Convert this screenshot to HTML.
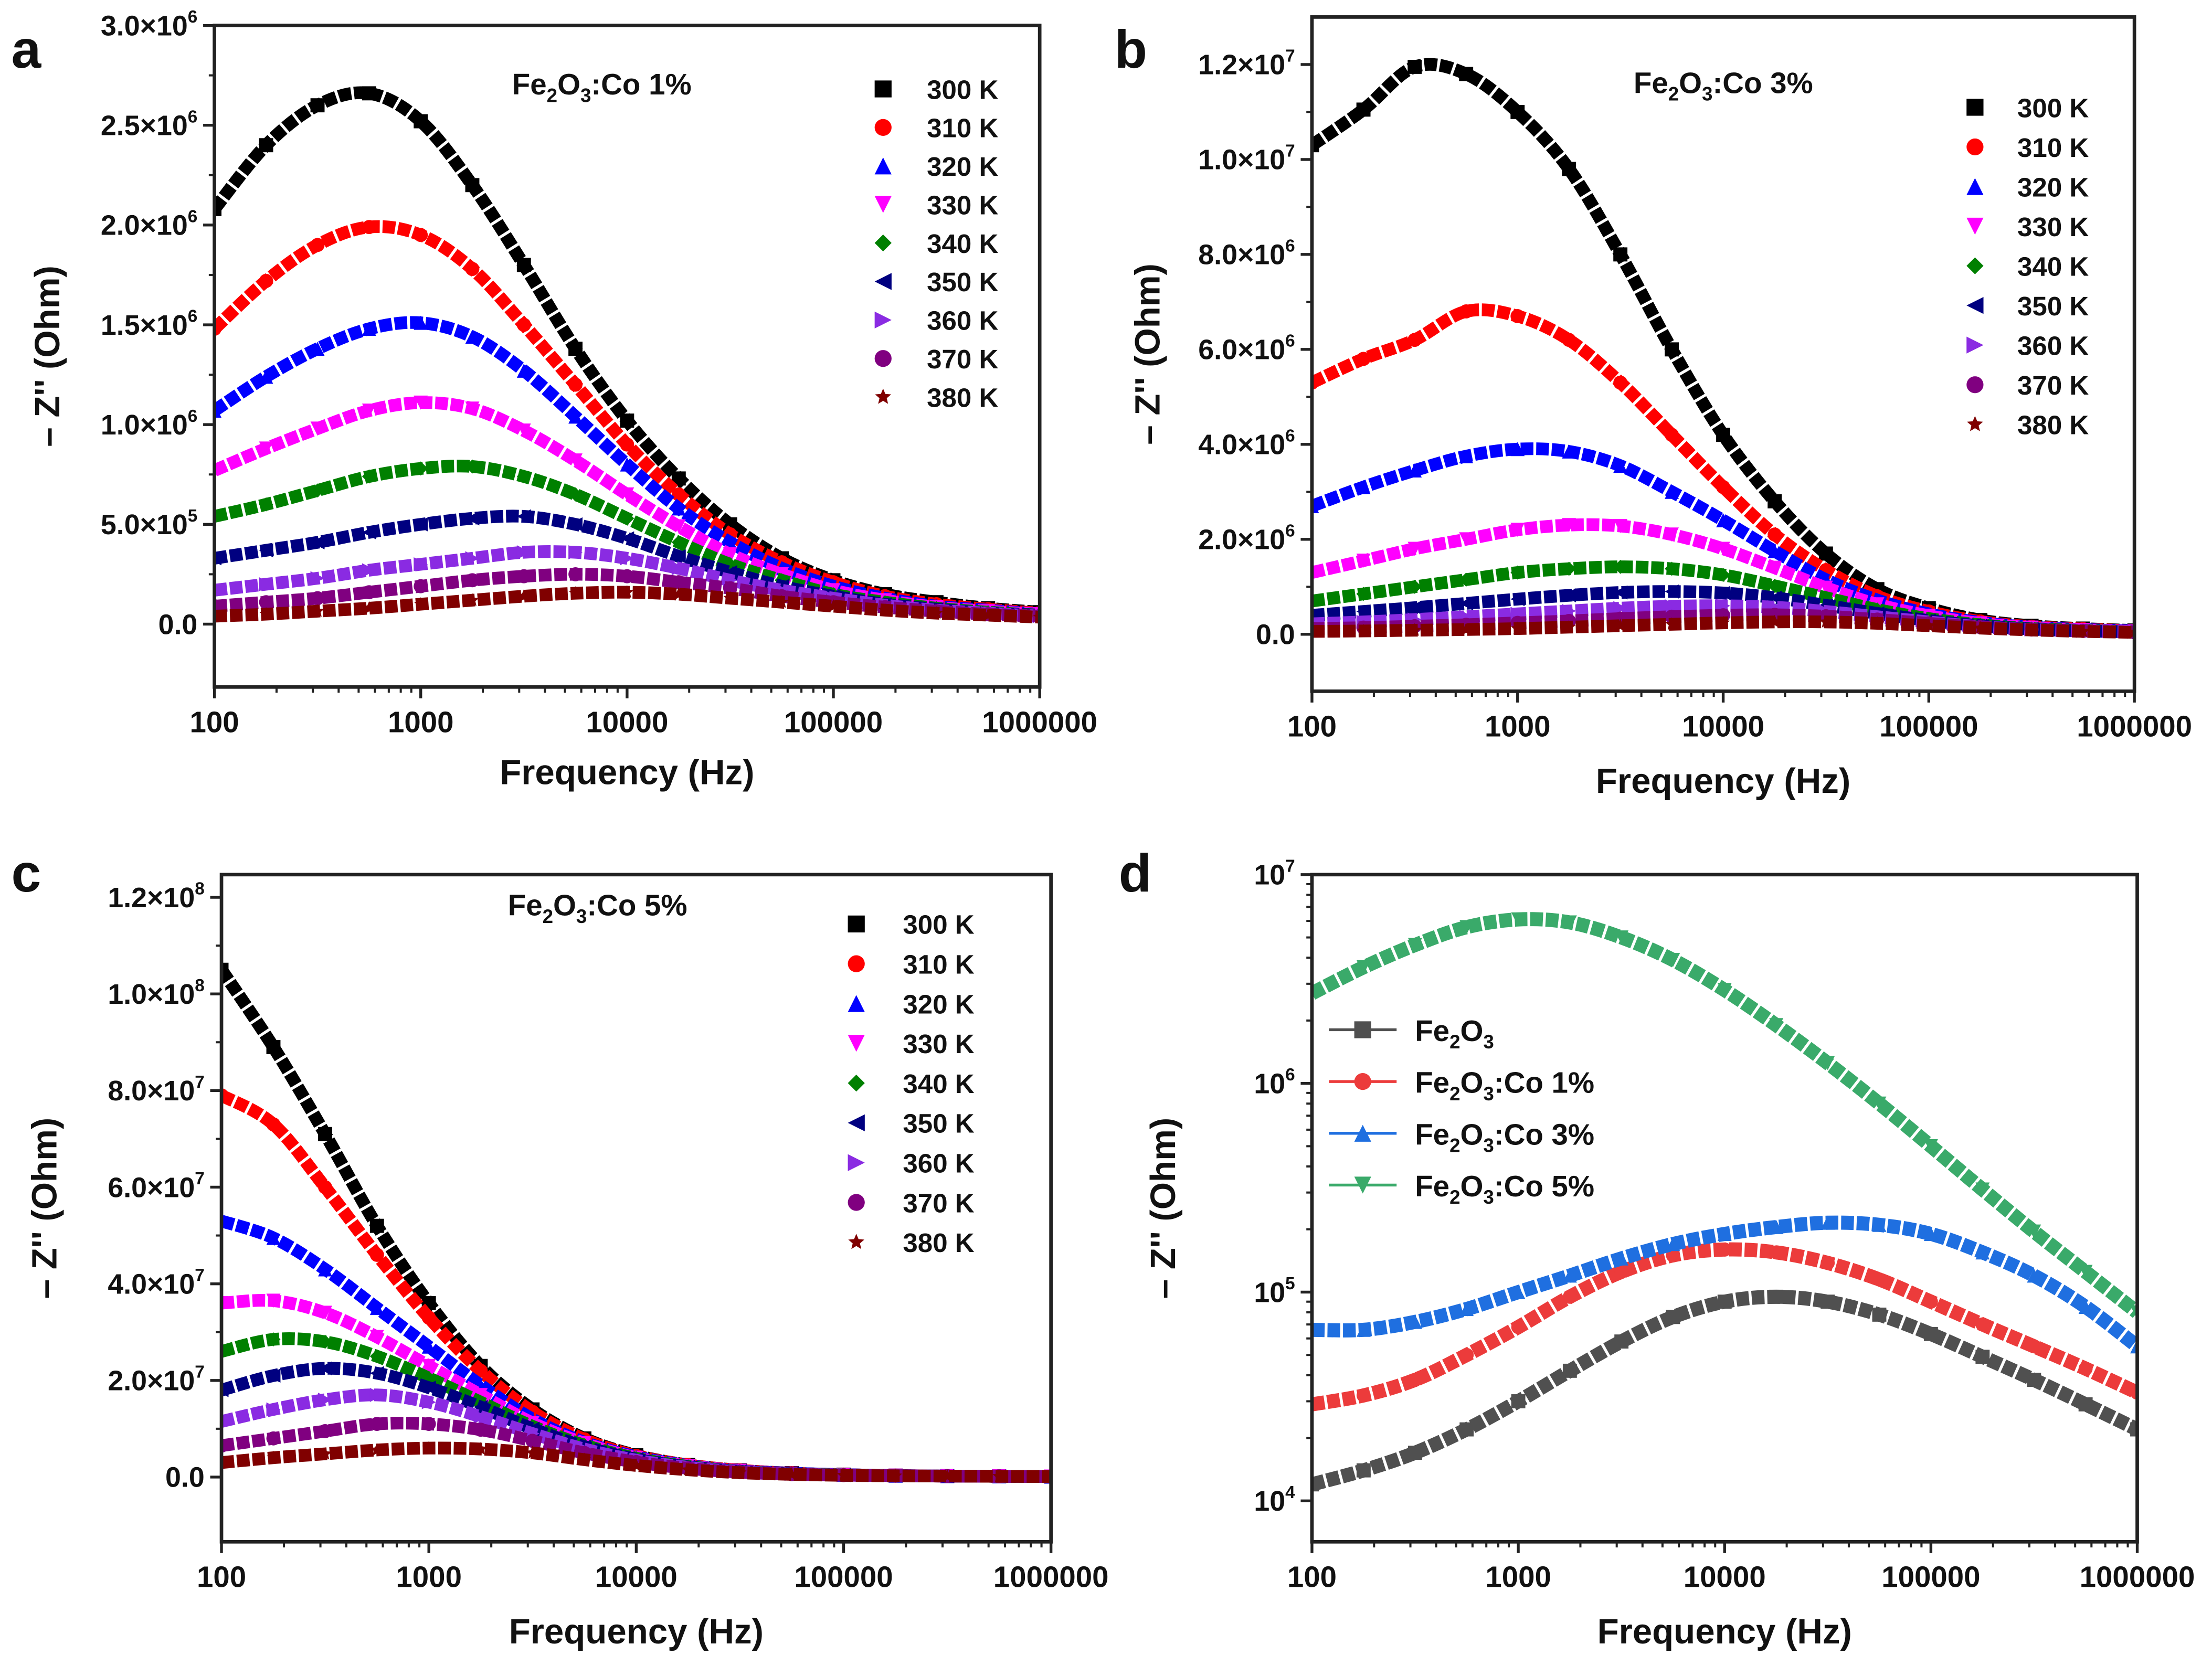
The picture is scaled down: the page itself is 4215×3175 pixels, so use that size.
<!DOCTYPE html>
<html><head><meta charset="utf-8"><style>
html,body{margin:0;padding:0;background:#fff}
svg{display:block}
text{font-family:"Liberation Sans",Arial,sans-serif;font-weight:bold;fill:#111}
</style></head><body>
<svg id="fig" width="4215" height="3175" viewBox="0 0 1568 1181" xmlns="http://www.w3.org/2000/svg"></svg>
<script>
// ===== data =====
const freqs = [100,178,316,562,1000,1778,3162,5623,1e4,1.78e4,3.16e4,5.62e4,1e5,1.78e5,3.16e5,5.62e5,1e6];
const tempLabels = ["300 K","310 K","320 K","330 K","340 K","350 K","360 K","370 K","380 K"];
// panel a (x1e6 Ohm)
const a300=[2.08,2.4,2.6,2.66,2.52,2.2,1.8,1.38,1.02,0.73,0.5,0.33,0.22,0.15,0.11,0.08,0.06];
const a310=[1.48,1.72,1.9,1.99,1.95,1.78,1.5,1.2,0.9,0.65,0.45,0.31,0.21,0.14,0.1,0.075,0.055];
const a320=[1.07,1.24,1.38,1.48,1.51,1.44,1.27,1.04,0.8,0.58,0.41,0.28,0.19,0.13,0.09,0.07,0.05];
const a330=[0.77,0.88,0.98,1.07,1.11,1.08,0.97,0.82,0.65,0.49,0.35,0.25,0.17,0.12,0.085,0.065,0.05];
const a340=[0.54,0.6,0.67,0.74,0.78,0.79,0.74,0.65,0.53,0.41,0.3,0.22,0.15,0.11,0.08,0.06,0.045];
const a350=[0.33,0.37,0.41,0.46,0.5,0.53,0.54,0.5,0.43,0.34,0.26,0.19,0.14,0.1,0.075,0.055,0.045];
const a360=[0.17,0.2,0.23,0.27,0.3,0.33,0.36,0.36,0.33,0.28,0.22,0.17,0.13,0.095,0.07,0.055,0.04];
const a370=[0.09,0.11,0.13,0.16,0.19,0.22,0.24,0.25,0.24,0.21,0.18,0.14,0.11,0.085,0.065,0.05,0.04];
const a380=[0.04,0.05,0.065,0.08,0.1,0.12,0.14,0.155,0.16,0.15,0.13,0.11,0.09,0.07,0.055,0.045,0.035];
// panel b (x1e6 Ohm)
const b300=[10.3,11.05,11.95,11.8,11.0,9.8,8.0,6.0,4.2,2.8,1.7,0.95,0.55,0.3,0.18,0.12,0.08];
const b310=[5.3,5.8,6.2,6.8,6.7,6.2,5.3,4.2,3.1,2.1,1.35,0.8,0.48,0.27,0.16,0.11,0.07];
const b320=[2.7,3.1,3.45,3.75,3.9,3.85,3.55,3.0,2.4,1.75,1.15,0.72,0.43,0.25,0.15,0.1,0.07];
const b330=[1.3,1.55,1.8,2.0,2.2,2.3,2.28,2.1,1.8,1.4,0.98,0.63,0.39,0.23,0.14,0.09,0.06];
const b340=[0.7,0.85,1.0,1.15,1.3,1.38,1.42,1.38,1.25,1.02,0.77,0.52,0.33,0.2,0.12,0.08,0.05];
const b350=[0.4,0.48,0.56,0.65,0.74,0.82,0.88,0.9,0.87,0.77,0.61,0.44,0.29,0.18,0.11,0.07,0.05];
const b360=[0.22,0.26,0.31,0.37,0.43,0.49,0.55,0.59,0.6,0.57,0.48,0.37,0.26,0.16,0.1,0.07,0.05];
const b370=[0.12,0.14,0.17,0.2,0.24,0.28,0.33,0.37,0.4,0.41,0.38,0.31,0.23,0.15,0.1,0.07,0.04];
const b380=[0.06,0.07,0.085,0.1,0.12,0.15,0.18,0.21,0.24,0.26,0.26,0.23,0.18,0.13,0.09,0.06,0.04];
// panel c (x1e7 Ohm)
const c300=[10.5,8.9,7.1,5.2,3.6,2.3,1.4,0.8,0.45,0.25,0.14,0.08,0.05,0.03,0.02,0.015,0.01];
const c310=[7.9,7.3,6.0,4.6,3.3,2.2,1.35,0.78,0.44,0.25,0.14,0.08,0.05,0.03,0.02,0.015,0.01];
const c320=[5.3,4.95,4.3,3.5,2.7,1.9,1.2,0.72,0.42,0.24,0.13,0.08,0.05,0.03,0.02,0.015,0.01];
const c330=[3.6,3.65,3.4,2.9,2.3,1.7,1.12,0.7,0.4,0.23,0.13,0.07,0.045,0.03,0.02,0.015,0.01];
const c340=[2.6,2.85,2.8,2.5,2.05,1.55,1.05,0.66,0.39,0.22,0.12,0.07,0.045,0.03,0.02,0.015,0.01];
const c350=[1.8,2.1,2.25,2.15,1.85,1.45,1.0,0.63,0.37,0.21,0.12,0.07,0.04,0.03,0.02,0.015,0.01];
const c360=[1.15,1.4,1.6,1.7,1.55,1.25,0.9,0.58,0.35,0.2,0.11,0.065,0.04,0.03,0.02,0.015,0.01];
const c370=[0.65,0.8,0.95,1.1,1.1,0.98,0.75,0.5,0.31,0.18,0.1,0.06,0.04,0.03,0.02,0.015,0.01];
const c380=[0.3,0.4,0.48,0.56,0.6,0.58,0.5,0.36,0.24,0.15,0.09,0.055,0.035,0.025,0.02,0.015,0.01];
// panel d (Ohm)
const dFe=[1.2e4,1.4e4,1.7e4,2.2e4,3e4,4.2e4,5.8e4,7.6e4,9e4,9.5e4,9e4,7.8e4,6.3e4,4.9e4,3.8e4,2.9e4,2.2e4];
const dCo1=[2.9e4,3.2e4,3.8e4,5e4,6.8e4,9.5e4,1.25e5,1.5e5,1.6e5,1.55e5,1.38e5,1.15e5,9e4,7e4,5.5e4,4.3e4,3.3e4];
const dCo3=[6.6e4,6.6e4,7.2e4,8.3e4,1e5,1.2e5,1.45e5,1.7e5,1.9e5,2.05e5,2.15e5,2.1e5,1.9e5,1.55e5,1.2e5,8.5e4,5.5e4];
const dCo5=[2.7e6,3.6e6,4.6e6,5.6e6,6.1e6,5.9e6,5.0e6,3.9e6,2.8e6,1.9e6,1.25e6,8e5,5e5,3.1e5,1.95e5,1.25e5,8e4];
const dLabels=["Fe2O3","Fe2O3:Co 1%","Fe2O3:Co 3%","Fe2O3:Co 5%"];
const xTickLabels=["100","1000","10000","100000","1000000"];
const aTicks=[0,0.5,1,1.5,2,2.5,3], aTickLabels=[["0.0",""],["5.0×10","5"],["1.0×10","6"],["1.5×10","6"],["2.0×10","6"],["2.5×10","6"],["3.0×10","6"]];
const bTicks=[0,2,4,6,8,10,12], bTickLabels=[["0.0",""],["2.0×10","6"],["4.0×10","6"],["6.0×10","6"],["8.0×10","6"],["1.0×10","7"],["1.2×10","7"]];
const cTicks=[0,2,4,6,8,10,12], cTickLabels=[["0.0",""],["2.0×10","7"],["4.0×10","7"],["6.0×10","7"],["8.0×10","7"],["1.0×10","8"],["1.2×10","8"]];
const dTicks=[1e4,1e5,1e6,1e7], dTickLabels=[["10","4"],["10","5"],["10","6"],["10","7"]];

// ===== drawing =====
const NS="http://www.w3.org/2000/svg", svg=document.getElementById('fig');
function el(tag,attrs,parent){const e=document.createElementNS(NS,tag);for(const k in attrs)e.setAttribute(k,attrs[k]);(parent||svg).appendChild(e);return e;}
const tColors=["#000000","#ff0000","#0000ff","#ff00ff","#008000","#000080","#8a2be2","#800080","#800000"];
const tShapes=["square","circle","up","down","diamond","left","right","circle","star"];
function marker(g,shape,x,y,s,color){
  let e;
  if(shape==="square") e=el('rect',{x:x-s/2,y:y-s/2,width:s,height:s,fill:color},g);
  else if(shape==="circle") e=el('circle',{cx:x,cy:y,r:s/2,fill:color},g);
  else {
    let p;const h=s/2;
    if(shape==="up")p=[[x,y-h],[x+h,y+h],[x-h,y+h]];
    else if(shape==="down")p=[[x,y+h],[x+h,y-h],[x-h,y-h]];
    else if(shape==="diamond")p=[[x,y-h],[x+h,y],[x,y+h],[x-h,y]];
    else if(shape==="left")p=[[x-h,y],[x+h,y-h],[x+h,y+h]];
    else if(shape==="right")p=[[x+h,y],[x-h,y-h],[x-h,y+h]];
    else {p=[];for(let i=0;i<10;i++){const r=i%2?h*0.45:h;const a=-Math.PI/2+i*Math.PI/5;p.push([x+r*Math.cos(a),y+r*Math.sin(a)]);}}
    e=el('polygon',{points:p.map(q=>q.join(',')).join(' '),fill:color},g);
  }
  
  
  return e;
}
function smoothPath(P){
  let d='M'+P[0][0]+','+P[0][1];
  for(let i=0;i<P.length-1;i++){
    const p0=P[Math.max(0,i-1)],p1=P[i],p2=P[i+1],p3=P[Math.min(P.length-1,i+2)];
    const c1=[p1[0]+(p2[0]-p0[0])/6,p1[1]+(p2[1]-p0[1])/6];
    const c2=[p2[0]-(p3[0]-p1[0])/6,p2[1]-(p3[1]-p1[1])/6];
    d+=` C${c1[0]},${c1[1]} ${c2[0]},${c2[1]} ${p2[0]},${p2[1]}`;
  }
  return d;
}
function tickLabel(g,x,y,parts,anchor,size){
  const t=el('text',{x:x,y:y,'text-anchor':anchor,'font-size':size},g);
  
  
  t.appendChild(document.createTextNode(parts[0]));
  if(parts[1]){const s=el('tspan',{'font-size':size*0.62,dy:-size*0.45},t);s.textContent=parts[1];}
  return t;
}
function chemText(g,x,y,str,size,anchor){
  const t=el('text',{x:x,y:y,'font-size':size,'text-anchor':anchor||'start'},g);
  const m=str.match(/^Fe2O3(.*)$/);
  const sp1=el('tspan',{},t);sp1.textContent="Fe";
  const s2=el('tspan',{'font-size':size*0.65,dy:size*0.25},t);s2.textContent="2";
  const s3=el('tspan',{dy:-size*0.25},t);s3.textContent="O";
  const s4=el('tspan',{'font-size':size*0.65,dy:size*0.25},t);s4.textContent="3";
  if(m&&m[1]){const s5=el('tspan',{dy:-size*0.25},t);s5.textContent=m[1];}
  return t;
}
function panel(cfg){
  const g=el('g',{});
  
  
  const {L,R,T,B}=cfg;
  const xs=f=>L+(Math.log10(f)-2)/4*(R-L);
  const ys=cfg.log?(v=>B-(Math.log10(v)-cfg.ymin)/(cfg.ymax-cfg.ymin)*(B-T)):(v=>B-(v-cfg.ymin)/(cfg.ymax-cfg.ymin)*(B-T));
  for(let d=2;d<=6;d++){
    const x=xs(Math.pow(10,d));
    el('line',{x1:x,x2:x,y1:B,y2:B+8,stroke:'#222','stroke-width':2},g);
    const t=el('text',{x:x,y:B+32,'text-anchor':'middle','font-size':21},g);
    
    
    t.textContent=xTickLabels[d-2];
    if(d<6)for(let k=2;k<10;k++){const xm=xs(k*Math.pow(10,d));el('line',{x1:xm,x2:xm,y1:B,y2:B+4,stroke:'#222','stroke-width':1.5},g);}
  }
  cfg.ticks.forEach((v,i)=>{
    const y=ys(v);
    el('line',{x1:L-8,x2:L,y1:y,y2:y,stroke:'#222','stroke-width':2},g);
    tickLabel(g,L-12,y+7,cfg.tickLabels[i],'end',20);
    if(cfg.log){ if(i<cfg.ticks.length-1)for(let k=2;k<10;k++){const ym=ys(k*v);el('line',{x1:L-4,x2:L,y1:ym,y2:ym,stroke:'#222','stroke-width':1.5},g);} }
    else if(i<cfg.ticks.length-1){const ym=ys((v+cfg.ticks[i+1])/2);el('line',{x1:L-4,x2:L,y1:ym,y2:ym,stroke:'#222','stroke-width':1.5},g);}
  });
  const clip=el('clipPath',{id:'clip-'+cfg.name},g);el('rect',{x:L,y:T,width:R-L,height:B-T},clip);
  const sg=el('g',{'clip-path':'url(#clip-'+cfg.name+')'},g);
  cfg.series.forEach((s,si)=>{
    const ss=el('g',{},sg);
    
    
    const P=freqs.map((f,i)=>[xs(f),ys(s.data[i])]);
    el('path',{d:smoothPath(P),fill:'none',stroke:s.color,'stroke-width':cfg.lw,'stroke-linejoin':'round','stroke-dasharray':'9 2'},ss);
    freqs.forEach((f,i)=>marker(ss,s.shape,xs(f),ys(s.data[i]),cfg.ms,s.color));
  });
  el('rect',{x:L,y:T,width:R-L,height:B-T,fill:'none',stroke:'#222','stroke-width':2.5},g);
  const lg=el('g',{},g);
  
  
  cfg.series.forEach((s,si)=>{
    const y=cfg.legY+si*cfg.legStep;
    const eg=el('g',{},lg);
    
    
    if(cfg.legLine){el('line',{x1:cfg.legX-24,x2:cfg.legX+24,y1:y,y2:y,stroke:s.color,'stroke-width':2},eg);marker(eg,s.shape,cfg.legX,y,12,s.color);chemText(eg,cfg.legTx,y+8,s.label,21);}
    else {marker(eg,s.shape,cfg.legX,y,12,s.color);const t=el('text',{x:cfg.legTx,y:y+7,'font-size':19},eg);t.textContent=s.label;}
  });
  if(cfg.title){const t=chemText(g,cfg.title[0],cfg.title[1],cfg.title[2],21);}
  const xt=el('text',{x:(L+R)/2,y:cfg.xtY,'text-anchor':'middle','font-size':25},g);
  xt.textContent="Frequency (Hz)";
  const yt=el('text',{x:0,y:0,'text-anchor':'middle','font-size':25,transform:`translate(${cfg.ytX},${(T+B)/2}) rotate(-90)`},g);
  yt.textContent="– Z'' (Ohm)";
  const pl=el('text',{x:cfg.letter[0],y:cfg.letter[1],'font-size':38},g);
  pl.textContent=cfg.letter[2];
}
function tseries(arrs){return arrs.map((d,i)=>({data:d,color:tColors[i],shape:tShapes[i],label:tempLabels[i]}));}
panel({name:'panel-a',L:152,R:737,T:18,B:487,ymin:-0.315,ymax:3.0,ticks:aTicks,tickLabels:aTickLabels,lw:9,ms:10,
  series:tseries([a300,a310,a320,a330,a340,a350,a360,a370,a380]),legX:626,legTx:657,legY:63,legStep:27.3,
  title:[363,67,"Fe2O3:Co 1%"],xtY:556,ytX:42,letter:[8,48,'a']});
panel({name:'panel-b',L:930,R:1513,T:12,B:490,ymin:-1.2,ymax:13.0,ticks:bTicks,tickLabels:bTickLabels,lw:9,ms:10,
  series:tseries([b300,b310,b320,b330,b340,b350,b360,b370,b380]),legX:1400,legTx:1430,legY:76,legStep:28.1,
  title:[1158,66,"Fe2O3:Co 3%"],xtY:562,ytX:822,letter:[790,48,'b']});
panel({name:'panel-c',L:157,R:745,T:620,B:1093,ymin:-1.34,ymax:12.47,ticks:cTicks,tickLabels:cTickLabels,lw:9,ms:10,
  series:tseries([c300,c310,c320,c330,c340,c350,c360,c370,c380]),legX:607,legTx:640,legY:655,legStep:28.2,
  title:[360,649,"Fe2O3:Co 5%"],xtY:1165,ytX:40,letter:[8,632,'c']});
panel({name:'panel-d',L:930,R:1515,T:620,B:1093,log:true,ymin:3.804,ymax:7.0,ticks:dTicks,tickLabels:dTickLabels,lw:10,ms:10,
  series:[{data:dFe,color:'#505050',shape:'square',label:dLabels[0]},{data:dCo1,color:'#ec3b3b',shape:'circle',label:dLabels[1]},
          {data:dCo3,color:'#1f6fe0',shape:'up',label:dLabels[2]},{data:dCo5,color:'#3aaa6a',shape:'down',label:dLabels[3]}],
  legLine:true,legX:966,legTx:1003,legY:730,legStep:36.7,xtY:1165,ytX:833,letter:[793,632,'d']});
</script>
</body></html>
